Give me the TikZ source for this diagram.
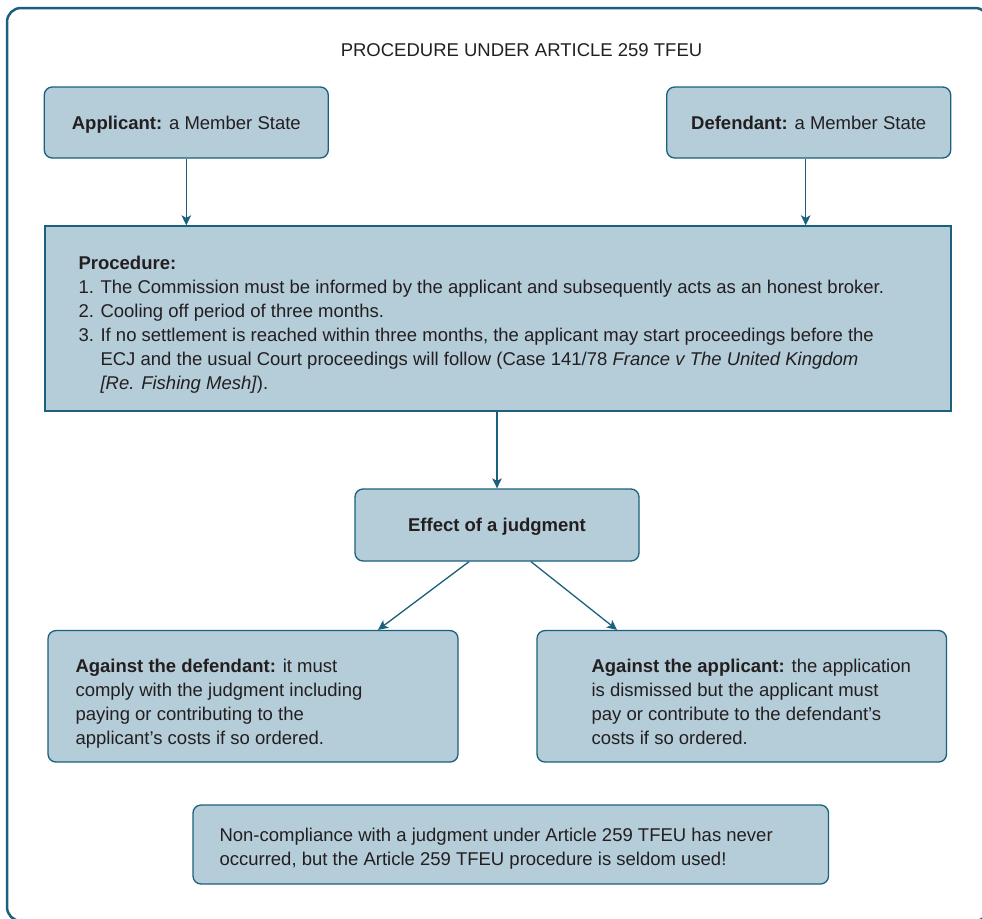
\documentclass[tikz,border=0pt]{standalone}
\usepackage{fontspec}
\setmainfont{Liberation Sans}
\usetikzlibrary{arrows.meta}
\definecolor{boxfill}{RGB}{180,205,217}
\definecolor{boxline}{RGB}{27,96,124}
\definecolor{ink}{RGB}{35,31,32}
\begin{document}
\begin{tikzpicture}[x=1pt,y=-1pt,
  every node/.style={font=\fontsize{18.5}{24}\selectfont, text=ink},
  panel/.style={draw=boxline, fill=boxfill, line width=1.3pt, rounded corners=8pt, inner sep=0pt,
    text height=13.3pt, text depth=0pt},
  plainpanel/.style={panel, rounded corners=0pt},
  % multi-line text blocks are placed by the baseline of their last line
  para/.style={anchor=base west, align=left, inner sep=0pt},
  arr/.style={draw=boxline, line width=1.3pt, -{Stealth[length=10pt,width=9.5pt,inset=2.5pt]}},
  frame/.style={draw=boxline, line width=2.5pt, rounded corners=14pt},
]
\useasboundingbox (0,0) rectangle (982,918);
\clip (0,0) rectangle (982,918);

% outer frame (right and bottom edges run past the page)
\draw[frame] (7,8) rectangle (989,921);

% heading
\node (title) at (521.5,50) {PROCEDURE UNDER ARTICLE 259 TFEU};

% parties
\node[panel, minimum width=284pt, minimum height=71pt] (app) at (186.3,122.5)
  {\textbf{Applicant:} a Member State};
\node[panel, minimum width=284pt, minimum height=71pt] (def) at (808.7,122.5)
  {\textbf{Defendant:} a Member State};

% procedure
\node[plainpanel, minimum width=906pt, minimum height=185pt] (proc) at (498,318.5) {};
\node[para] (proctext) at ([xshift=34pt]proc.west |- 0,389) {%
  \textbf{Procedure:}\\
  \makebox[22pt][l]{1.}The Commission must be informed by the applicant and subsequently acts as an honest broker.\\
  \makebox[22pt][l]{2.}Cooling off period of three months.\\
  \makebox[22pt][l]{3.}If no settlement is reached within three months, the applicant may start proceedings before the\\
  \hspace*{22pt}ECJ and the usual Court proceedings will follow (Case 141/78 \textit{France v The United Kingdom}\\
  \hspace*{22pt}\textit{[Re. Fishing Mesh]}).};

% effect of a judgment
\node[panel, minimum width=284pt, minimum height=72pt] (eff) at (497,525)
  {\textbf{Effect of a judgment}};

% outcomes
\node[panel, minimum width=410pt, minimum height=131.5pt] (adef) at (253,696.3) {};
\node[para] (adeftext) at ([xshift=28pt]adef.west |- 0,744) {%
  \textbf{Against the defendant:} it must\\
  comply with the judgment including\\
  paying or contributing to the\\
  applicant’s costs if so ordered.};

\node[panel, minimum width=409.5pt, minimum height=131.5pt] (aapp) at (741.75,696.3) {};
\node[para] (aapptext) at ([xshift=55pt]aapp.west |- 0,744) {%
  \textbf{Against the applicant:} the application\\
  is dismissed but the applicant must\\
  pay or contribute to the defendant’s\\
  costs if so ordered.};

% closing remark
\node[panel, minimum width=635.5pt, minimum height=79pt] (note) at (510.75,844.5) {};
\node[para] (notetext) at ([xshift=27pt]note.west |- 0,865) {%
  Non-compliance with a judgment under Article 259 TFEU has never\\
  occurred, but the Article 259 TFEU procedure is seldom used!};

% connectors
\draw[arr] (app.south) -- (app.south |- proc.north);
\draw[arr] ([xshift=-3pt]def.south) -- ([xshift=-3pt]def.south |- proc.north);
\draw[arr] (eff.north |- proc.south) -- (eff.north);
\draw[arr] ([xshift=-28pt]eff.south) -- ([xshift=125pt]adef.north);
\draw[arr] ([xshift=34pt]eff.south) -- ([xshift=-124.75pt]aapp.north);
\end{tikzpicture}
\end{document}
